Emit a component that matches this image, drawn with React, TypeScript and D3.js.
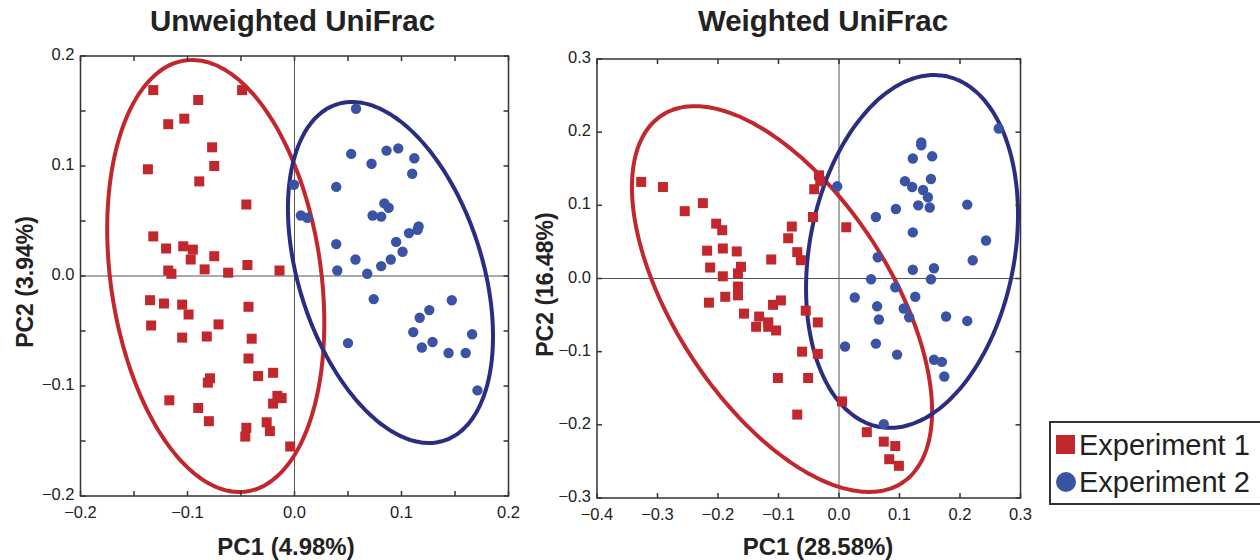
import React from "react";
import * as d3 from "d3";

// ---------- data ----------
const seriesNames = ["Experiment 1", "Experiment 2"];

// Unweighted UniFrac (PC1, PC2)
const unweightedExp1: [number, number][] = [
  [-0.132, 0.169], [-0.09, 0.16], [-0.049, 0.169], [-0.118, 0.138], [-0.103, 0.143],
  [-0.077, 0.117], [-0.075, 0.1], [-0.137, 0.097], [-0.089, 0.086], [-0.045, 0.065],
  [-0.132, 0.036], [-0.12, 0.025], [-0.104, 0.027], [-0.095, 0.024], [-0.097, 0.015],
  [-0.075, 0.018], [-0.118, 0.005], [-0.115, 0.002], [-0.084, 0.006], [-0.062, 0.003],
  [-0.044, 0.01], [-0.014, 0.005], [-0.135, -0.022], [-0.122, -0.025], [-0.105, -0.026],
  [-0.099, -0.035], [-0.043, -0.028], [-0.134, -0.045], [-0.071, -0.044], [-0.105, -0.056],
  [-0.082, -0.055], [-0.04, -0.057], [-0.043, -0.075], [-0.034, -0.091], [-0.02, -0.088],
  [-0.079, -0.093], [-0.081, -0.097], [-0.117, -0.113], [-0.09, -0.12], [-0.08, -0.132],
  [-0.016, -0.109], [-0.012, -0.111], [-0.02, -0.116], [-0.026, -0.133], [-0.023, -0.141],
  [-0.045, -0.138], [-0.046, -0.146], [-0.004, -0.155],
];
const unweightedExp2: [number, number][] = [
  [0.0575, 0.152], [0.053, 0.111], [0.086, 0.114], [0.097, 0.116], [0.112, 0.107],
  [0.072, 0.102], [0.11, 0.093], [-0.0005, 0.083], [0.039, 0.081], [0.006, 0.055],
  [0.012, 0.053], [0.084, 0.066], [0.088, 0.062], [0.073, 0.055], [0.081, 0.054],
  [0.116, 0.045], [0.115, 0.042], [0.107, 0.039], [0.039, 0.029], [0.095, 0.031],
  [0.101, 0.022], [0.057, 0.015], [0.09, 0.015], [0.081, 0.009], [0.04, 0.005],
  [0.068, 0.002], [0.074, -0.021], [0.147, -0.022], [0.126, -0.031], [0.117, -0.038],
  [0.111, -0.051], [0.166, -0.053], [0.129, -0.06], [0.119, -0.065], [0.144, -0.07],
  [0.16, -0.07], [0.05, -0.061], [0.171, -0.104],
];

// Weighted UniFrac (PC1, PC2)
const weightedExp1: [number, number][] = [
  [-0.327, 0.132], [-0.291, 0.125], [-0.225, 0.103], [-0.255, 0.092], [-0.203, 0.075],
  [-0.193, 0.066], [-0.218, 0.038], [-0.192, 0.041], [-0.169, 0.037], [-0.213, 0.015],
  [-0.162, 0.016], [-0.167, 0.007], [-0.192, 0.003], [-0.167, -0.011], [-0.167, -0.023],
  [-0.188, -0.025], [-0.215, -0.033], [-0.112, 0.026], [-0.078, 0.071], [-0.084, 0.055],
  [-0.069, 0.036], [-0.063, 0.025], [-0.033, 0.141], [-0.031, 0.133], [-0.041, 0.122],
  [-0.043, 0.084], [0.012, 0.07], [-0.157, -0.048], [-0.132, -0.052], [-0.109, -0.036],
  [-0.096, -0.03], [-0.137, -0.066], [-0.117, -0.06], [-0.117, -0.066], [-0.104, -0.071],
  [-0.055, -0.044], [-0.035, -0.06], [-0.061, -0.1], [-0.035, -0.103], [-0.101, -0.136],
  [-0.051, -0.136], [-0.069, -0.186], [0.005, -0.168], [0.046, -0.21], [0.074, -0.223],
  [0.093, -0.229], [0.083, -0.247], [0.099, -0.256],
];
const weightedExp2: [number, number][] = [
  [0.264, 0.205], [0.136, 0.186], [0.136, 0.182], [0.122, 0.164], [0.154, 0.167],
  [-0.003, 0.126], [0.109, 0.133], [0.121, 0.125], [0.139, 0.121], [0.152, 0.136],
  [0.147, 0.111], [0.131, 0.1], [0.15, 0.097], [0.094, 0.095], [0.212, 0.101],
  [0.061, 0.084], [0.122, 0.063], [0.243, 0.052], [0.064, 0.029], [0.221, 0.025],
  [0.122, 0.012], [0.157, 0.014], [0.053, -0.001], [0.152, -0.001], [0.093, -0.012],
  [0.026, -0.026], [0.126, -0.025], [0.063, -0.038], [0.107, -0.041], [0.066, -0.056],
  [0.116, -0.053], [0.177, -0.052], [0.212, -0.058], [0.01, -0.093], [0.061, -0.089],
  [0.096, -0.104], [0.157, -0.111], [0.17, -0.114], [0.174, -0.134], [0.074, -0.199],
];

// confidence ellipses: centre, conjugate semi-axis vectors u and v (data units)
type Ell = { cx: number; cy: number; ux: number; uy: number; vx: number; vy: number };
const unweightedEllipse1: Ell = { cx: -0.0736, cy: 0.0, ux: -0.0287, uy: 0.1959, vx: 0.0973, vy: 0.0135 };
const unweightedEllipse2: Ell = { cx: 0.0897, cy: 0.0032, ux: -0.0499, uy: 0.1529, vx: 0.0818, vy: 0.0253 };
const weightedEllipse1: Ell = { cx: -0.0942, cy: -0.0281, ux: -0.1988, uy: 0.251, vx: 0.1483, vy: 0.0807 };
const weightedEllipse2: Ell = { cx: 0.1207, cy: 0.037, ux: 0.0547, uy: 0.2397, vx: 0.1664, vy: -0.026 };

const unweightedXTicks = [-0.2, -0.15, -0.1, -0.05, 0, 0.05, 0.1, 0.15, 0.2];
const unweightedXLabels = [-0.2, -0.1, 0, 0.1, 0.2];
const unweightedYTicks = [-0.2, -0.15, -0.1, -0.05, 0, 0.05, 0.1, 0.15, 0.2];
const unweightedYLabels = [-0.2, -0.1, 0, 0.1, 0.2];
const weightedXTicks = [-0.4, -0.3, -0.2, -0.1, 0, 0.1, 0.2, 0.3];
const weightedYTicks = [-0.3, -0.2, -0.1, 0, 0.1, 0.2, 0.3];

// ---------- style ----------
const RED = "#c1272d";
const BLUE = "#3a53a4";
const RED_ELL = "#c1272d";
const BLUE_ELL = "#2b2e80";
const FONT = "'Liberation Sans', Arial, Helvetica, sans-serif";

const fmt = (v: number) => (Math.abs(v) < 1e-9 ? "0.0" : d3.format(".1f")(v));

function ellipsePath(e: Ell, x: d3.ScaleLinear<number, number>, y: d3.ScaleLinear<number, number>) {
  const pts: [number, number][] = d3.range(0, 360, 2).map((deg) => {
    const t = (deg * Math.PI) / 180;
    return [e.cx + e.ux * Math.cos(t) + e.vx * Math.sin(t), e.cy + e.uy * Math.cos(t) + e.vy * Math.sin(t)];
  });
  return d3
    .line<[number, number]>()
    .x((d) => x(d[0]))
    .y((d) => y(d[1]))
    .curve(d3.curveCardinalClosed)(pts) as string;
}

type PanelProps = {
  title: string;
  xLabel: string;
  yLabel: string;
  xDomain: [number, number];
  yDomain: [number, number];
  xRange: [number, number];
  yRange: [number, number];
  xTicks: number[];
  xLabels: number[];
  yTicks: number[];
  yLabels: number[];
  s1: [number, number][];
  s2: [number, number][];
  e1: Ell;
  e2: Ell;
  yTitleX: number;
  titleX: number;
  xTitleX: number;
};

function Panel(p: PanelProps) {
  const x = d3.scaleLinear().domain(p.xDomain).range(p.xRange);
  const y = d3.scaleLinear().domain(p.yDomain).range(p.yRange);
  const [x0, x1] = p.xRange;
  const [y0, y1] = [p.yRange[1], p.yRange[0]]; // top, bottom
  const tl = 5;
  return (
    <g>
      <text x={p.titleX} y={31} textAnchor="middle" fontFamily={FONT} fontWeight="bold" fontSize={29.5} fill="#222">
        {p.title}
      </text>
      {/* zero lines */}
      <line x1={x(0)} x2={x(0)} y1={y0} y2={y1} stroke="#555" strokeWidth={1} />
      <line x1={x0} x2={x1} y1={y(0)} y2={y(0)} stroke="#555" strokeWidth={1} />
      {/* ellipses */}
      <path d={ellipsePath(p.e1, x, y)} fill="none" stroke={RED_ELL} strokeWidth={4} />
      <path d={ellipsePath(p.e2, x, y)} fill="none" stroke={BLUE_ELL} strokeWidth={4} />
      {/* points */}
      {p.s1.map((d, i) => (
        <rect key={"a" + i} x={x(d[0]) - 5} y={y(d[1]) - 5} width={10} height={10} fill={RED} />
      ))}
      {p.s2.map((d, i) => (
        <circle key={"b" + i} cx={x(d[0])} cy={y(d[1])} r={5.2} fill={BLUE} />
      ))}
      {/* frame */}
      <rect x={x0} y={y0} width={x1 - x0} height={y1 - y0} fill="none" stroke="#333" strokeWidth={1.5} />
      {/* ticks */}
      {p.xTicks.map((t, i) => (
        <g key={"xt" + i}>
          <line x1={x(t)} x2={x(t)} y1={y1} y2={y1 - tl} stroke="#333" strokeWidth={1.5} />
          <line x1={x(t)} x2={x(t)} y1={y0} y2={y0 + tl} stroke="#333" strokeWidth={1.5} />
        </g>
      ))}
      {p.yTicks.map((t, i) => (
        <g key={"yt" + i}>
          <line x1={x0} x2={x0 + tl} y1={y(t)} y2={y(t)} stroke="#333" strokeWidth={1.5} />
          <line x1={x1} x2={x1 - tl} y1={y(t)} y2={y(t)} stroke="#333" strokeWidth={1.5} />
        </g>
      ))}
      {p.xLabels.map((t, i) => (
        <text key={"xl" + i} x={x(t)} y={y1 + 22} textAnchor="middle" fontFamily={FONT} fontSize={16.5} fill="#222">
          {fmt(t)}
        </text>
      ))}
      {p.yLabels.map((t, i) => (
        <text key={"yl" + i} x={x0 - 6} y={y(t) + 4} textAnchor="end" fontFamily={FONT} fontSize={16.5} fill="#222">
          {fmt(t)}
        </text>
      ))}
      <text x={p.xTitleX} y={555} textAnchor="middle" fontFamily={FONT} fontWeight="bold" fontSize={24} fill="#222">
        {p.xLabel}
      </text>
      <text
        transform={`translate(${p.yTitleX},${(y0 + y1) / 2 + 6}) rotate(-90)`}
        textAnchor="middle"
        fontFamily={FONT}
        fontWeight="bold"
        fontSize={23}
        fill="#222"
      >
        {p.yLabel}
      </text>
    </g>
  );
}

export default function App() {
  return (
    <svg width={1260} height={560} style={{ position: "absolute", left: 0, top: 0, background: "#fff" }}>
      <Panel
        title="Unweighted UniFrac"
        xLabel="PC1 (4.98%)"
        yLabel="PC2 (3.94%)"
        xDomain={[-0.2, 0.2]}
        yDomain={[-0.2, 0.2]}
        xRange={[80.5, 508.5]}
        yRange={[496, 56]}
        xTicks={unweightedXTicks}
        xLabels={unweightedXLabels}
        yTicks={unweightedYTicks}
        yLabels={unweightedYLabels}
        s1={unweightedExp1}
        s2={unweightedExp2}
        e1={unweightedEllipse1}
        e2={unweightedEllipse2}
        yTitleX={33}
        titleX={292.5}
        xTitleX={286}
      />
      <Panel
        title="Weighted UniFrac"
        xLabel="PC1 (28.58%)"
        yLabel="PC2 (16.48%)"
        xDomain={[-0.4, 0.3]}
        yDomain={[-0.3, 0.3]}
        xRange={[597, 1020.5]}
        yRange={[498, 59]}
        xTicks={weightedXTicks}
        xLabels={weightedXTicks}
        yTicks={weightedYTicks}
        yLabels={weightedYTicks}
        s1={weightedExp1}
        s2={weightedExp2}
        e1={weightedEllipse1}
        e2={weightedEllipse2}
        yTitleX={553}
        titleX={823}
        xTitleX={818}
      />
      {/* legend */}
      <g>
        <rect x={1050} y={422} width={260} height={82} fill="#fff" stroke="#333" strokeWidth={2} />
        <rect x={1056} y={435} width={19} height={19} fill={RED} />
        <text x={1079} y={455} fontFamily={FONT} fontSize={29} fill="#222">
          {seriesNames[0]}
        </text>
        <circle cx={1066} cy={482} r={10} fill={BLUE} />
        <text x={1079} y={492} fontFamily={FONT} fontSize={29} fill="#222">
          {seriesNames[1]}
        </text>
      </g>
    </svg>
  );
}
